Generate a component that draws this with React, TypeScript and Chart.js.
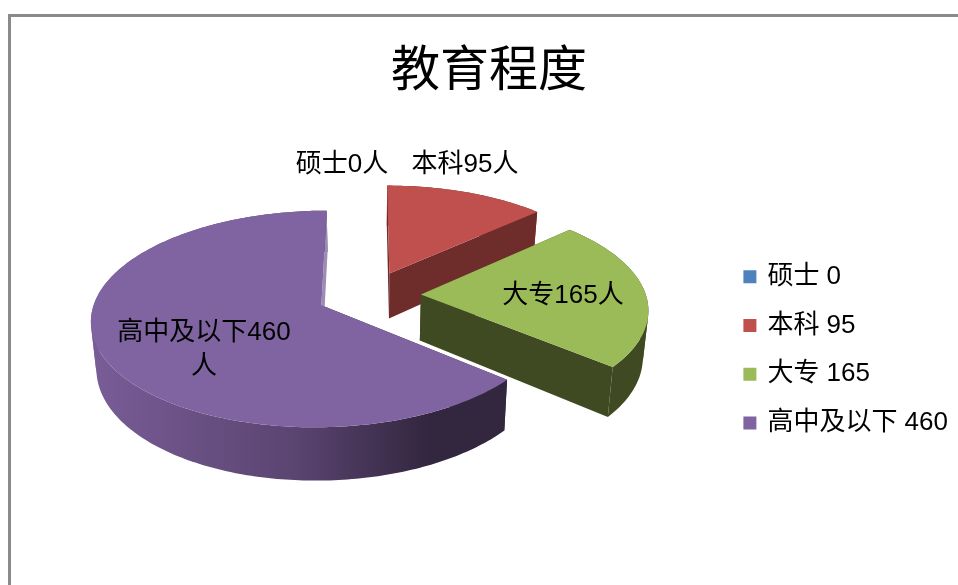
import React, { useEffect, useRef } from "react";
import { Chart, registerables } from "chart.js";

Chart.register(...registerables);

const titleText = "教育程度";
const categories = ["硕士", "本科", "大专", "高中及以下"];
const values = [0, 95, 165, 460];
const legendTexts = ["硕士 0", "本科 95", "大专 165", "高中及以下 460"];
const dataLabelLines = [["硕士0人"], ["本科95人"], ["大专165人"], ["高中及以下460", "人"]];
const topColors = ["#4F81BD", "#C0504D", "#9BBB59", "#8064A2"];
const sideColors = ["#2F4D71", "#6E2C2B", "#3F4A22", "#33263F"];
const endFaceColors = ["#2F4D71", "#6E2C2B", "#3F4A22", "#9C8BB2"];

const FONT = '"Liberation Sans","Noto Sans CJK SC",sans-serif';
const labelCenters = [
  [342, 165],
  [465, 165],
  [563, 296],
  [204, 333],
];

const view = { vx: 369, vy: 295, R0: 225, a: 104, b: 0.125, depth: 46, narrow: 0.02 };

function project(U: number, V: number, z: number) {
  const s = 1 / (1 - view.b * V);
  return {
    x: view.vx + view.R0 * U * s * (1 - view.narrow * z),
    y: view.vy + view.a * V * s + view.depth * s * z,
  };
}

const pie3d = {
  id: "pie3d",
  beforeDatasetDraw(chart: any, args: any) {
    const ctx = chart.ctx;
    const elements = args.meta.data;
    elements.forEach((el: any, i: number) => {
      if (!values[i]) return;
      const { startAngle, endAngle, outerRadius } = el.getProps(["startAngle", "endAngle", "outerRadius"], true);
      const mid = (startAngle + endAngle) / 2;
      const e = el.options.offset / outerRadius;
      const ou = e * Math.cos(mid);
      const ov = e * Math.sin(mid);
      const steps = Math.max(2, Math.ceil(((endAngle - startAngle) * 180) / Math.PI));
      const rim: Array<[number, number]> = [];
      for (let k = 0; k <= steps; k++) {
        const t = startAngle + ((endAngle - startAngle) * k) / steps;
        rim.push([ou + Math.cos(t), ov + Math.sin(t)]);
      }
      const apex: [number, number] = [ou, ov];
      let fill: any = sideColors[i];
      if (i === 3) {
        const g = ctx.createLinearGradient(97, 0, 430, 0);
        g.addColorStop(0, "#785C96");
        g.addColorStop(0.6, "#5A4470");
        g.addColorStop(1, "#33263F");
        fill = g;
      }
      const band = (pts: Array<[number, number]>, style: any) => {
        ctx.beginPath();
        pts.forEach((p, k) => {
          const q = project(p[0], p[1], 0);
          if (k === 0) ctx.moveTo(q.x, q.y);
          else ctx.lineTo(q.x, q.y);
        });
        for (let k = pts.length - 1; k >= 0; k--) {
          const q = project(pts[k][0], pts[k][1], 1);
          ctx.lineTo(q.x, q.y);
        }
        ctx.closePath();
        ctx.fillStyle = style;
        ctx.fill();
      };
      // The wall changes facing where the upper and lower rims cross, so each run is filled on its own.
      const facing = (p: [number, number], q: [number, number]) => {
        const a = project(p[0], p[1], 0);
        const b = project(q[0], q[1], 0);
        const c = project(q[0], q[1], 1);
        return (b.x - a.x) * (c.y - a.y) - (b.y - a.y) * (c.x - a.x) >= 0;
      };
      const runs: Array<Array<[number, number]>> = [];
      let current: Array<[number, number]> = [rim[0]];
      let sign = facing(rim[0], rim[1]);
      for (let k = 0; k < rim.length - 1; k++) {
        const f = facing(rim[k], rim[k + 1]);
        if (f !== sign) {
          runs.push(current);
          current = [rim[k]];
          sign = f;
        }
        current.push(rim[k + 1]);
      }
      runs.push(current);
      ctx.save();
      band([apex, rim[0]], sideColors[i]);
      runs.forEach((r) => band(r, fill));
      band([apex, rim[rim.length - 1]], endFaceColors[i]);
      ctx.beginPath();
      const a0 = project(apex[0], apex[1], 0);
      ctx.moveTo(a0.x, a0.y);
      rim.forEach((p) => {
        const q = project(p[0], p[1], 0);
        ctx.lineTo(q.x, q.y);
      });
      ctx.closePath();
      ctx.fillStyle = topColors[i];
      ctx.fill();
      ctx.restore();
    });
    return false;
  },
  afterDatasetsDraw(chart: any) {
    const ctx = chart.ctx;
    ctx.save();
    ctx.font = `26px ${FONT}`;
    ctx.fillStyle = "#000000";
    ctx.textAlign = "center";
    ctx.textBaseline = "middle";
    dataLabelLines.forEach((lines, i) => {
      lines.forEach((line, j) => {
        ctx.fillText(line, labelCenters[i][0], labelCenters[i][1] + j * 34);
      });
    });
    ctx.restore();
  },
};

export default function App() {
  const ref = useRef<HTMLCanvasElement | null>(null);
  useEffect(() => {
    if (!ref.current) return;
    const chart = new Chart(ref.current, {
      type: "pie",
      data: {
        labels: categories,
        datasets: [
          {
            data: values,
            backgroundColor: topColors,
            borderWidth: 0,
            offset: 30,
            hoverOffset: 0,
            radius: 130,
          } as any,
        ],
      },
      options: {
        responsive: false,
        animation: false,
        events: [],
        layout: { padding: { left: 20, right: 0, top: 0, bottom: 0 } },
        plugins: {
          tooltip: { enabled: false },
          title: {
            display: true,
            text: titleText,
            color: "#000000",
            font: { family: FONT, size: 49, weight: "normal" },
            padding: { top: 43, bottom: 13 },
          },
          legend: {
            position: "right",
            fullSize: false,
            labels: {
              color: "#000000",
              font: { family: FONT, size: 26 },
              boxWidth: 9,
              boxHeight: 9,
              padding: 22.7,
              generateLabels: () =>
                legendTexts.map((text, i) => ({
                  text,
                  fillStyle: topColors[i],
                  strokeStyle: topColors[i],
                  lineWidth: 4,
                  index: i,
                })),
            },
          },
        },
      },
      plugins: [pie3d],
    } as any);
    return () => chart.destroy();
  }, []);
  return (
    <div style={{ position: "absolute", left: 0, top: 0, width: 958, height: 585, overflow: "hidden", background: "#fff" }}>
      <div
        style={{
          position: "absolute",
          left: 8,
          top: 14,
          width: 960,
          height: 600,
          borderTop: "3px solid #8A8A8A",
          borderLeft: "3px solid #8A8A8A",
        }}
      />
      <canvas ref={ref} width={958} height={585} style={{ position: "absolute", left: 0, top: 0, display: "block" }} />
    </div>
  );
}
